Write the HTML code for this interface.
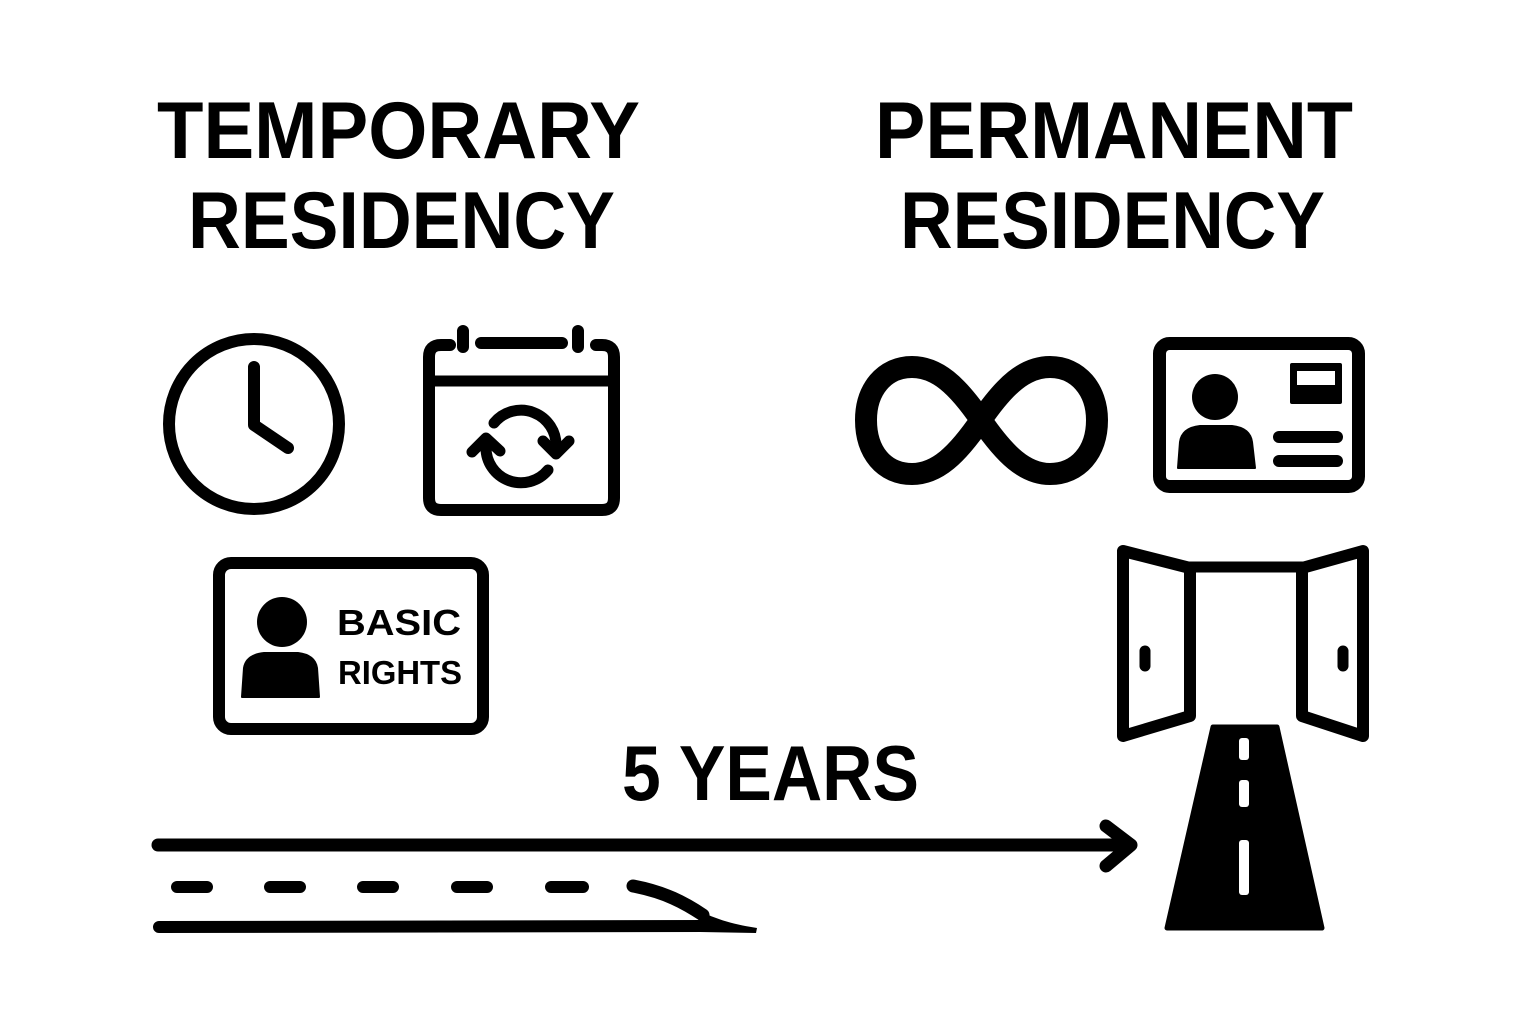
<!DOCTYPE html>
<html>
<head>
<meta charset="utf-8">
<style>
  html, body { margin: 0; padding: 0; background: #ffffff; }
  body { width: 1536px; height: 1024px; overflow: hidden; }
  svg { display: block; }
  text { font-family: "Liberation Sans", "DejaVu Sans", sans-serif; font-weight: bold; fill: #000; }
</style>
</head>
<body>
<svg width="1536" height="1024" viewBox="0 0 1536 1024" xmlns="http://www.w3.org/2000/svg">
  <rect x="0" y="0" width="1536" height="1024" fill="#ffffff"/>

  <!-- Headings -->
  <text x="157" y="158" font-size="81" textLength="483" lengthAdjust="spacingAndGlyphs">TEMPORARY</text>
  <text x="188" y="248" font-size="81" textLength="427" lengthAdjust="spacingAndGlyphs">RESIDENCY</text>
  <text x="875" y="158" font-size="81" textLength="478" lengthAdjust="spacingAndGlyphs">PERMANENT</text>
  <text x="900" y="248" font-size="81" textLength="425" lengthAdjust="spacingAndGlyphs">RESIDENCY</text>

  <g fill="none" stroke="#000" stroke-linecap="round" stroke-linejoin="round">
    <!-- Clock -->
    <circle cx="254" cy="424" r="85" stroke-width="12"/>
    <path d="M254,367 V425 L288,448" stroke-width="12"/>

    <!-- Calendar -->
    <path d="M450,345 H441 Q429,345 429,357 V498 Q429,510 441,510 H602 Q614,510 614,498 V357 Q614,345 602,345 H596" stroke-width="12"/>
    <line x1="463" y1="331" x2="463" y2="347" stroke-width="12"/>
    <line x1="578" y1="331" x2="578" y2="347" stroke-width="12"/>
    <line x1="481" y1="343" x2="562" y2="343" stroke-width="12"/>
    <line x1="429" y1="381" x2="614" y2="381" stroke-width="11" stroke-linecap="butt"/>
    <!-- refresh arrows -->
    <path d="M494,423 A35,35 0 0 1 556,447" stroke-width="11"/>
    <polyline points="543,441 556,454 569,441" stroke-width="11"/>
    <path d="M548,470 A35,35 0 0 1 486,447" stroke-width="11"/>
    <polyline points="472,452 486,438 500,451" stroke-width="11"/>

    <!-- Infinity -->
    <path d="M981,420 C1005,385 1025,367 1050,367 C1078,367 1097,390 1097,420 C1097,452 1078,474 1050,474 C1025,474 1005,455 981,420 C957,385 937,367 912,367 C884,367 866,390 866,420 C866,452 884,474 912,474 C937,474 957,455 981,420 Z" stroke-width="22" stroke-linejoin="miter"/>

    <!-- Right ID card -->
    <rect x="1159.5" y="343.5" width="199" height="143" rx="10" stroke-width="13"/>
    <line x1="1279" y1="437" x2="1337" y2="437" stroke-width="12"/>
    <line x1="1279" y1="461" x2="1337" y2="461" stroke-width="12"/>

    <!-- Left card -->
    <rect x="219" y="563" width="264" height="166" rx="12" stroke-width="12"/>

    <!-- Doors -->
    <polygon points="1123,551 1190,568 1190,716 1123,736" stroke-width="12"/>
    <polygon points="1302,568 1363,551 1363,736 1302,716" stroke-width="12"/>
    <line x1="1190" y1="567" x2="1302" y2="567" stroke-width="11"/>
    <line x1="1145" y1="651" x2="1145" y2="666" stroke-width="11"/>
    <line x1="1343" y1="651" x2="1343" y2="666" stroke-width="11"/>

    <!-- Arrow -->
    <line x1="158" y1="845" x2="1130" y2="845" stroke-width="13"/>
    <polyline points="1106,826 1131,845 1106,866" stroke-width="13"/>

    <!-- Road dashes (left) -->
    <line x1="177" y1="887" x2="207" y2="887" stroke-width="12"/>
    <line x1="270" y1="887" x2="300" y2="887" stroke-width="12"/>
    <line x1="363" y1="887" x2="393" y2="887" stroke-width="12"/>
    <line x1="457" y1="887" x2="487" y2="887" stroke-width="12"/>
    <line x1="551" y1="887" x2="583" y2="887" stroke-width="12"/>

    <!-- bottom line + curve -->
    <path d="M159,927 L705,926" stroke-width="12"/>
    <path d="M633,886 C665,892 685,903 703,915" stroke-width="13"/>
  </g>

  <!-- curve tip -->
  <path d="M697,909 C715,920 738,925 757,928 L756,933 L700,932 Z" fill="#000"/>

  <!-- Right card person + photo -->
  <circle cx="1215" cy="397" r="23" fill="#000"/>
  <path d="M1178,468 L1180,442 Q1182,428 1200,426 L1232,426 Q1250,428 1252,442 L1255,468 Z" fill="#000" stroke="#000" stroke-width="2" stroke-linejoin="round"/>
  <rect x="1290" y="363" width="52" height="41" rx="2" fill="#000"/>
  <rect x="1297" y="371" width="38" height="14" fill="#fff"/>

  <!-- Left card person -->
  <circle cx="282" cy="622" r="25" fill="#000"/>
  <path d="M242,697 L244,668 Q246,655 264,653 L298,653 Q315,655 317,668 L319,697 Z" fill="#000" stroke="#000" stroke-width="2" stroke-linejoin="round"/>
  <text x="337" y="635" font-size="36" textLength="124" lengthAdjust="spacingAndGlyphs">BASIC</text>
  <text x="338" y="684" font-size="33" textLength="124" lengthAdjust="spacingAndGlyphs">RIGHTS</text>

  <!-- Road (right) -->
  <polygon points="1213,727 1277,727 1322,928 1167,928" fill="#000" stroke="#000" stroke-width="5" stroke-linejoin="round"/>
  <rect x="1239" y="738" width="10" height="22" rx="3" fill="#fff"/>
  <rect x="1239" y="780" width="10" height="27" rx="3" fill="#fff"/>
  <rect x="1239" y="840" width="10" height="55" rx="3" fill="#fff"/>

  <!-- 5 YEARS -->
  <text x="622" y="800" font-size="78" textLength="297" lengthAdjust="spacingAndGlyphs">5 YEARS</text>
</svg>
</body>
</html>
